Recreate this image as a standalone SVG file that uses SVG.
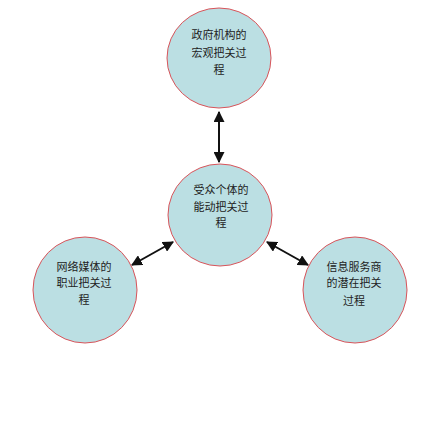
<svg xmlns="http://www.w3.org/2000/svg" width="440" height="431" viewBox="0 0 440 431">
<style>
.node{fill:#bbdfe3;stroke:#d9545a;stroke-width:1}
.t{font-family:"Noto Sans CJK SC","Liberation Sans",sans-serif;font-size:11px;fill:#222;text-anchor:middle}
.c{stroke:#111;stroke-width:2;fill:none;marker-start:url(#a);marker-end:url(#a)}
</style>
<defs>
<marker id="a" viewBox="0 0 10 10" refX="9" refY="5" markerWidth="5.5" markerHeight="5.5" orient="auto-start-reverse" markerUnits="strokeWidth">
<path d="M0,0 L10,5 L0,10 z" fill="#111"/>
</marker>
</defs>
<rect width="440" height="431" fill="#fff"/>
<g id="connectors">
<line class="c" x1="219" y1="112" x2="219" y2="162"/>
<line class="c" x1="132" y1="265" x2="173" y2="242"/>
<line class="c" x1="267" y1="242" x2="308" y2="265"/>
</g>
<g id="top">
<ellipse class="node" cx="219" cy="58" rx="52" ry="50"/>
<text class="t" x="219" y="39">政府机构的</text>
<text class="t" x="219" y="57">宏观把关过</text>
<text class="t" x="219" y="74">程</text>
</g>
<g id="center">
<ellipse class="node" cx="220" cy="215" rx="52" ry="51"/>
<text class="t" x="221" y="194">受众个体的</text>
<text class="t" x="221" y="211">能动把关过</text>
<text class="t" x="221" y="227">程</text>
</g>
<g id="left">
<ellipse class="node" cx="85" cy="290" rx="52" ry="53"/>
<text class="t" x="84" y="271">网络媒体的</text>
<text class="t" x="84" y="287">职业把关过</text>
<text class="t" x="84" y="304">程</text>
</g>
<g id="right">
<ellipse class="node" cx="355" cy="290" rx="52" ry="53"/>
<text class="t" x="354" y="271">信息服务商</text>
<text class="t" x="354" y="287">的潜在把关</text>
<text class="t" x="354" y="305">过程</text>
</g>
</svg>
